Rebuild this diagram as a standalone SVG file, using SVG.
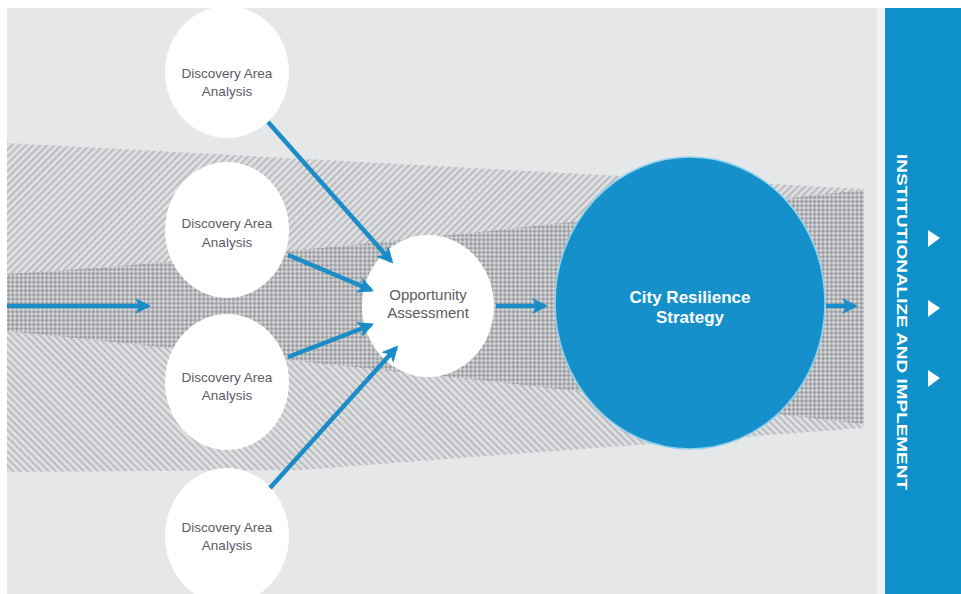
<svg xmlns="http://www.w3.org/2000/svg" width="961" height="594" viewBox="0 0 961 594">
<defs>
<pattern id="hatchA" patternUnits="userSpaceOnUse" width="5" height="5" patternTransform="rotate(45)">
<rect width="5" height="5" fill="#e0e1e3"/><rect width="2.2" height="5" fill="#bcbdc0"/>
</pattern>
<pattern id="hatchB" patternUnits="userSpaceOnUse" width="5" height="5" patternTransform="rotate(-45)">
<rect width="5" height="5" fill="#e0e1e3"/><rect width="2.2" height="5" fill="#bcbdc0"/>
</pattern>
<pattern id="dots" patternUnits="userSpaceOnUse" width="6" height="6" patternTransform="rotate(45)">
<rect width="6" height="6" fill="#d2d3d5"/><rect width="3" height="3" fill="#9fa0a4"/><rect x="3" y="3" width="3" height="3" fill="#9fa0a4"/>
</pattern>
<marker id="ah" viewBox="0 0 10 10" refX="8" refY="5" markerWidth="3.6" markerHeight="3.6" orient="auto">
<path d="M0,0 L10,5 L0,10 L2.5,5 z" fill="#1a8dc8"/>
</marker>
<clipPath id="stage"><rect x="7" y="8" width="870" height="586"/></clipPath>
</defs>
<style>
.conn{stroke:#1a8dc8;stroke-width:4.5;fill:none;marker-end:url(#ah)}
.node{fill:#ffffff}
.lbl{font-family:"Liberation Sans",Arial,sans-serif;font-size:13.5px;fill:#5b5c5f;text-anchor:middle}
.oa{font-size:15px}
.crs{font-family:"Liberation Sans",Arial,sans-serif;font-size:17px;font-weight:bold;fill:#ffffff;text-anchor:middle}
</style>
<rect width="961" height="594" fill="#ffffff"/>
<rect x="7" y="8" width="878" height="586" fill="#e6e7e9"/>
<rect x="877" y="8" width="8" height="586" fill="#f1f2f3"/>
<g id="bands" clip-path="url(#stage)">
<polygon points="7,143 864,189 864,306 7,306" fill="url(#hatchA)"/>
<polygon points="7,306 864,306 864,428 300,470 7,472" fill="url(#hatchB)"/>
<path d="M7,274 Q150,266 480,232 L864,190 L864,424 L480,380 L7,331 Z" fill="url(#dots)"/>
</g>
<g id="daa1"><ellipse class="node" cx="227" cy="72" rx="62" ry="66"/>
<text class="lbl" x="227" y="78">Discovery Area</text><text class="lbl" x="227" y="96">Analysis</text></g>
<g id="daa2"><ellipse class="node" cx="227" cy="230" rx="62" ry="68"/>
<text class="lbl" x="227" y="228">Discovery Area</text><text class="lbl" x="227" y="247">Analysis</text></g>
<g id="daa3"><ellipse class="node" cx="227" cy="382" rx="62" ry="68"/>
<text class="lbl" x="227" y="382">Discovery Area</text><text class="lbl" x="227" y="400">Analysis</text></g>
<g id="daa4" clip-path="url(#stage)"><ellipse class="node" cx="227" cy="536" rx="62" ry="68"/>
<text class="lbl" x="227" y="532">Discovery Area</text><text class="lbl" x="227" y="550">Analysis</text></g>
<g id="oa"><ellipse class="node" cx="428" cy="306" rx="66" ry="71"/>
<text class="lbl oa" x="428" y="300">Opportunity</text><text class="lbl oa" x="428" y="318">Assessment</text></g>
<g id="crs"><ellipse cx="690" cy="303" rx="135" ry="146" fill="#1590cb" stroke="#8fd2ee" stroke-width="1.5"/>
<text class="crs" x="690" y="303">City Resilience</text><text class="crs" x="690" y="323">Strategy</text></g>
<g id="connectors">
<line class="conn" x1="7" y1="306" x2="148" y2="306"/>
<line class="conn" x1="268" y1="122" x2="391" y2="261"/>
<line class="conn" x1="288" y1="255" x2="371" y2="290"/>
<line class="conn" x1="288" y1="357" x2="371" y2="325"/>
<line class="conn" x1="270" y1="488" x2="396" y2="348"/>
<line class="conn" x1="496" y1="306" x2="545" y2="306"/>
<line class="conn" x1="826" y1="306" x2="855" y2="306"/>
</g>
<g id="panel">
<rect x="885" y="8" width="76" height="586" fill="#0e90cb"/>
<text transform="translate(897,322) rotate(90)" font-family="Liberation Sans,Arial,sans-serif" font-size="14.5" font-weight="bold" fill="#ffffff" text-anchor="middle" textLength="336" lengthAdjust="spacingAndGlyphs">INSTITUTIONALIZE AND IMPLEMENT</text>
<polygon points="928,230 940,238 928,247" fill="#ffffff"/>
<polygon points="928,300 940,308 928,317" fill="#ffffff"/>
<polygon points="928,370 940,378 928,387" fill="#ffffff"/>
</g>
</svg>
